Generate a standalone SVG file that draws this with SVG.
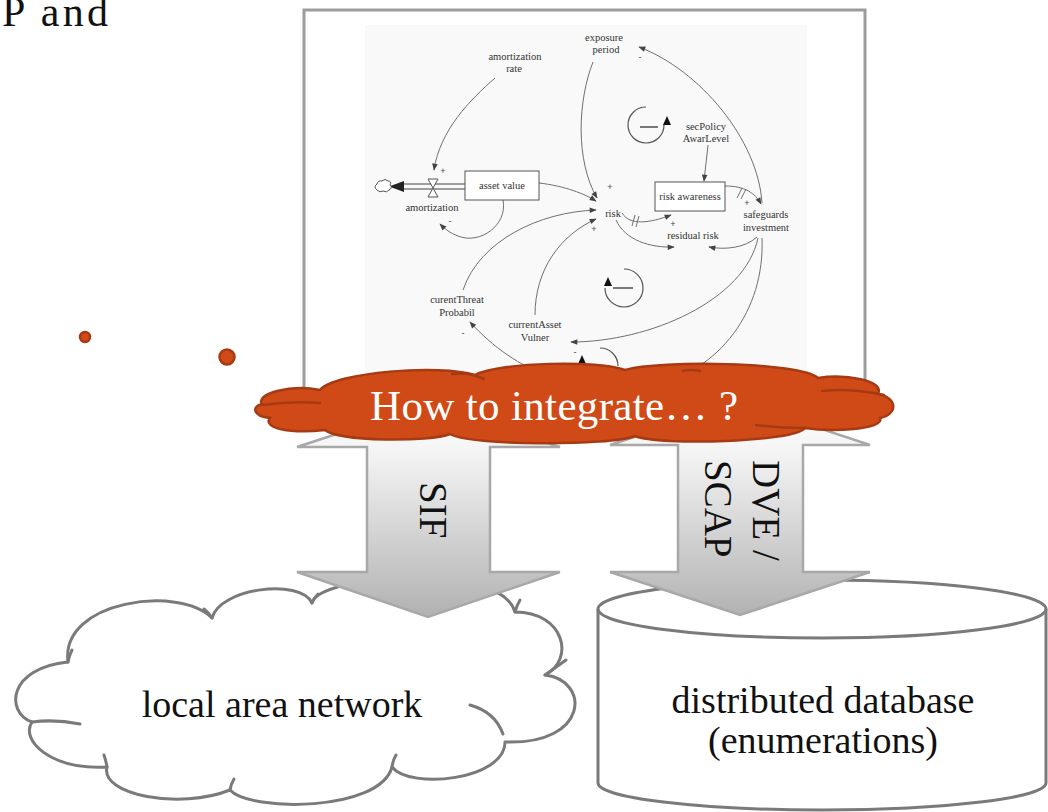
<svg xmlns="http://www.w3.org/2000/svg" width="1048" height="812" viewBox="0 0 1048 812">
<defs>
<style>
  .sd{fill:none;stroke:#707070;stroke-width:1}
  .sdt{font-family:"Liberation Serif","Times New Roman",serif;font-size:10.5px;fill:#333;text-anchor:middle}
  .sgn{font-family:"Liberation Sans",Arial,sans-serif;font-size:9px;fill:#444;text-anchor:middle}
  .shape{fill:#ffffff;stroke:#7a7a7a;stroke-width:3;stroke-linejoin:round}
  .crease{fill:none;stroke:#7a7a7a;stroke-width:3;stroke-linecap:round}
  .big{font-family:"Liberation Serif","Times New Roman",serif;font-size:38px;fill:#111;text-anchor:middle}
  .fat{fill:url(#shade);stroke:#a8a8a8;stroke-width:2.5;stroke-linejoin:miter}
  .lbl{font-family:"Liberation Serif","Times New Roman",serif;font-size:39px;fill:#111}
  .red{fill:#d04a18;stroke:#a63a12;stroke-width:2.5}
  .redline{fill:none;stroke:#a63a12;stroke-width:2.5;stroke-linecap:round}
  .loop{fill:none;stroke:#555;stroke-width:1.2}
  .head{font-family:"Liberation Serif","Times New Roman",serif;font-size:42px;fill:#111}
</style>
<linearGradient id="shade" gradientUnits="userSpaceOnUse" x1="0" y1="400" x2="0" y2="620">
  <stop offset="0" stop-color="#ffffff"/>
  <stop offset="0.25" stop-color="#f3f3f3"/>
  <stop offset="1" stop-color="#b0b0b0"/>
</linearGradient>
<marker id="ah" viewBox="0 0 10 10" refX="9" refY="5" markerWidth="8" markerHeight="7" markerUnits="userSpaceOnUse" orient="auto">
  <path d="M0 1 L10 5 L0 9 Z" fill="#444"/>
</marker>
</defs>

<rect width="1048" height="812" fill="#ffffff"/>

<!-- heading fragment -->
<text class="head" x="2" y="26" textLength="106" lengthAdjust="spacing">P and</text>

<!-- bullet dots -->
<g id="dots">
  <circle cx="85" cy="337" r="5" class="red" stroke-width="1.5"/>
  <circle cx="227" cy="357" r="7.5" class="red" stroke-width="1.5"/>
</g>

<!-- system dynamics model panel -->
<g id="model-panel">
  <rect x="304" y="10" width="561" height="400" fill="#ffffff" stroke="#9c9c9c" stroke-width="3"/>
  <rect x="365" y="25" width="442" height="355" fill="#f9f9f9"/>

  <g id="sd-links">
    <path class="sd" d="M495 78 C470 100 440 130 434 170" marker-end="url(#ah)"/>
    <path class="sd" d="M539 183 C565 186 585 194 596 201" marker-end="url(#ah)"/>
    <path class="sd" d="M503 200 C508 225 480 245 458 236 C450 233 445 229 440 224" marker-end="url(#ah)"/>
    <path class="sd" d="M593 62 C578 100 575 160 597 198" marker-end="url(#ah)"/>
    <path class="sd" d="M762 203 C758 140 700 70 639 47" marker-end="url(#ah)"/>
    <path class="sd" d="M708 145 L704 181" marker-end="url(#ah)"/>
    <path class="sd" d="M725 186 C745 186 755 193 761 204" marker-end="url(#ah)"/>
    <path class="sd" d="M622 213 C630 226 650 223 671 215" marker-end="url(#ah)"/>
    <path class="sd" d="M616 220 C625 240 650 248 674 247" marker-end="url(#ah)"/>
    <path class="sd" d="M757 237 C745 248 725 250 709 247" marker-end="url(#ah)"/>
    <path class="sd" d="M463 290 C480 240 540 212 596 210" marker-end="url(#ah)"/>
    <path class="sd" d="M535 315 C535 270 560 235 596 219" marker-end="url(#ah)"/>
    <path class="sd" d="M758 238 C745 300 650 342 571 342" marker-end="url(#ah)"/>
    <path class="sd" d="M762 238 C765 310 720 372 650 386 C580 398 515 372 470 322" marker-end="url(#ah)"/>
    <!-- delay marks -->
    <path class="sd" d="M737 198 L742 188 M741 199 L746 189"/>
    <path class="sd" d="M632 226 L635 215 M636 227 L639 216"/>
  </g>

  <!-- flow: asset value drained through amortization -->
  <g id="sd-flow">
    <path d="M404 184 L465 184 M404 189 L465 189" stroke="#444" stroke-width="1.2" fill="none"/>
    <path d="M404 181 L404 192 L389 186.5 Z" fill="#222"/>
    <path d="M377 190 q-4 -3 0 -6 q1 -4 5 -3 q3 -3 6 0 q4 0 2 4 q3 3 -1 5 q-2 3 -6 1 q-3 2 -6 -1 z" fill="#fff" stroke="#555" stroke-width="1"/>
    <path d="M428 179 L438 179 L428 197 L438 197 Z" fill="#fff" stroke="#555" stroke-width="1"/>
  </g>

  <g id="sd-asset-value">
    <rect x="465" y="171" width="74" height="29" fill="#fff" stroke="#555" stroke-width="1"/>
    <text class="sdt" x="502" y="189">asset value</text>
  </g>
  <g id="sd-risk-awareness">
    <rect x="655" y="182" width="70" height="29" fill="#fff" stroke="#555" stroke-width="1"/>
    <text class="sdt" x="690" y="200">risk awareness</text>
  </g>
  <g id="sd-labels">
    <text class="sdt" x="515" y="60">amortization</text>
    <text class="sdt" x="514" y="72">rate</text>
    <text class="sdt" x="604" y="41">exposure</text>
    <text class="sdt" x="606" y="53">period</text>
    <text class="sdt" x="706" y="130">secPolicy</text>
    <text class="sdt" x="706" y="142">AwarLevel</text>
    <text class="sdt" x="432" y="211">amortization</text>
    <text class="sdt" x="613" y="217">risk</text>
    <text class="sdt" x="693" y="239">residual risk</text>
    <text class="sdt" x="766" y="218">safeguards</text>
    <text class="sdt" x="766" y="231">investment</text>
    <text class="sdt" x="457" y="303">curentThreat</text>
    <text class="sdt" x="457" y="316">Probabil</text>
    <text class="sdt" x="535" y="328">currentAsset</text>
    <text class="sdt" x="535" y="341">Vulner</text>
  </g>
  <g id="sd-signs">
    <text class="sgn" x="443" y="174">+</text>
    <text class="sgn" x="450" y="224">-</text>
    <text class="sgn" x="610" y="190">+</text>
    <text class="sgn" x="640" y="60">-</text>
    <text class="sgn" x="747" y="206">+</text>
    <text class="sgn" x="673" y="227">+</text>
    <text class="sgn" x="594" y="232">+</text>
    <text class="sgn" x="463" y="336">-</text>
    <text class="sgn" x="575" y="355">-</text>
  </g>
  <g id="sd-loops">
    <path class="loop" d="M646 107 A18 18 0 1 0 664 125"/>
    <path d="M667 116 L671 125 L663 125 Z" fill="#111"/>
    <path d="M640 127 L658 127" stroke="#333" stroke-width="1.3"/>
    <path class="loop" d="M624 269 A19 19 0 1 1 605 288"/>
    <path d="M608 277 L612 286 L604 286 Z" fill="#111"/>
    <path d="M613 288 L633 288" stroke="#333" stroke-width="1.3"/>
    <path class="loop" d="M600 348 A18 18 0 0 1 618 366"/>
    <path d="M582 355 L586 364 L578 364 Z" fill="#111"/>
    <path d="M590 366 L610 366" stroke="#333" stroke-width="1.3"/>
  </g>
</g>

<!-- local area network cloud -->
<g id="lan">
  <path class="shape" d="M32 722 C5 712 8 668 68 662 C60 600 180 585 212 618 C220 588 300 578 312 603 C318 575 500 560 515 612 C565 612 575 660 545 675 C590 680 590 745 505 742 C505 780 410 790 392 767 C380 812 250 812 230 790 C180 810 100 795 107 767 C50 770 20 740 32 722 Z"/>
  <path class="crease" d="M32 722 Q55 719 80 724"/>
  <path class="crease" d="M68 662 Q69 656 72 650"/>
  <path class="crease" d="M212 618 Q209 613 204 609"/>
  <path class="crease" d="M312 603 Q314 598 318 594"/>
  <path class="crease" d="M515 612 Q517 605 520 600"/>
  <path class="crease" d="M545 675 Q555 668 566 660"/>
  <path class="crease" d="M470 705 Q495 712 503 734"/>
  <path class="crease" d="M392 767 Q393 760 396 755"/>
  <path class="crease" d="M230 790 Q231 784 234 779"/>
  <path class="crease" d="M107 767 Q106 761 104 755"/>
  <text class="big" x="282" y="717">local area network</text>
</g>

<!-- distributed database cylinder -->
<g id="database">
  <path class="shape" stroke-width="2.5" d="M598 609 L598 783 A224 27 0 0 0 1046 783 L1046 609"/>
  <ellipse cx="822" cy="609" rx="224" ry="29" class="shape" stroke-width="2.5"/>
  <text class="big" x="823" y="713">distributed database</text>
  <text class="big" x="823" y="753">(enumerations)</text>
</g>

<!-- exchange arrows -->
<g id="connectors">
  <g id="sif">
    <path class="fat" d="M428 404 L560 447 L490 447 L490 572 L560 572 L428 617 L297 572 L367 572 L367 447 L297 447 Z"/>
    <text class="lbl" transform="translate(420,482) rotate(90)">SIF</text>
  </g>
  <g id="dve-scap">
    <path class="fat" d="M740 402 L870 445 L803 445 L803 572 L870 572 L740 615 L610 572 L678 572 L678 445 L610 445 Z"/>
    <text class="lbl" transform="translate(753,460) rotate(90)">DVE /</text>
    <text class="lbl" transform="translate(705,460) rotate(90)">SCAP</text>
  </g>
</g>

<!-- callout cloud -->
<g id="question">
  <path class="red" d="M262 404 C255 394 290 384 320 390 C335 372 440 364 475 375 C500 362 600 360 625 370 C660 360 800 362 818 378 C845 374 885 380 878 394 C898 398 898 414 880 418 C885 430 830 432 805 428 C795 442 660 446 635 436 C610 446 470 446 450 434 C430 442 340 442 325 430 C290 434 262 428 270 418 C252 416 252 406 262 404 Z"/>
  <path class="redline" d="M263 405 Q290 401 320 403"/>
  <path class="redline" d="M452 374 Q468 372 484 379"/>
  <path class="redline" d="M683 371 Q690 369 700 371"/>
  <path class="redline" d="M822 391 Q850 388 884 395"/>
  <path class="redline" d="M756 425 Q780 428 805 428"/>
  <text x="554" y="420" font-family="Liberation Serif, Times New Roman, serif" font-size="43" fill="#ffffff" text-anchor="middle" textLength="368" lengthAdjust="spacing">How to integrate… ?</text>
</g>
</svg>
